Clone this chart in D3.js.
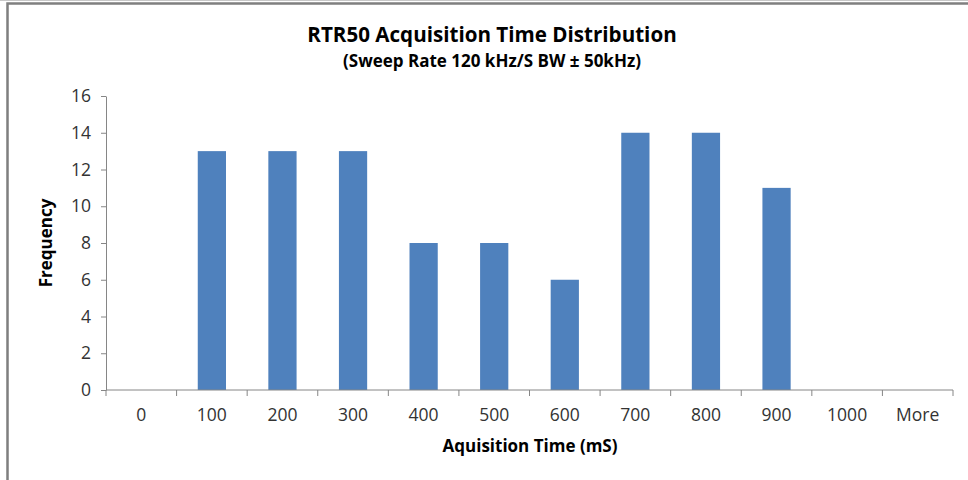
<!DOCTYPE html>
<html>
<head>
<meta charset="utf-8">
<script src="https://cdn.jsdelivr.net/npm/d3@7"></script>
<style>
  body { margin: 0; background: #fff; }
  svg { display: block; font-family: "Open Sans", "Liberation Sans", sans-serif; }
</style>
</head>
<body>
<svg id="drawing_region"></svg>
<script>
// histogram bins and counts
const bins = ["0", "100", "200", "300", "400", "500", "600", "700", "800", "900", "1000", "More"];
const frequency = [0, 13, 13, 13, 8, 8, 6, 14, 14, 11, 0, 0];
const yTicks = [0, 2, 4, 6, 8, 10, 12, 14, 16];

const width = 968, height = 480;
const margin = {top: 96, right: 15, bottom: 90, left: 106};

const svg = d3.select('#drawing_region')
    .attr('width', width)
    .attr('height', height);

// frame of the chart object
svg.append('line')
    .attr('x1', 0).attr('x2', width).attr('y1', 0.5).attr('y2', 0.5)
    .attr('stroke', '#c8c8c8').attr('stroke-width', 1);
svg.append('path')
    .attr('d', `M7.5,${height} V3.5 H${width}`)
    .attr('fill', 'none')
    .attr('stroke', '#7f7f7f')
    .attr('stroke-width', 2.5);

const innerW = width - margin.left - margin.right;
const innerH = height - margin.top - margin.bottom;

const chart = svg.append('g')
    .attr('transform', `translate(${margin.left}, ${margin.top})`);

const xscale = d3.scaleBand()
    .domain(bins)
    .range([0, innerW])
    .paddingInner(0.6)
    .paddingOuter(0.3);

const yscale = d3.scaleLinear()
    .domain([0, 16])
    .range([innerH, 0]);

// bars
chart.selectAll('rect')
    .data(bins.map((b, i) => ({bin: b, value: frequency[i]})).filter(d => d.value > 0))
    .enter().append('rect')
    .attr('x', d => xscale(d.bin))
    .attr('y', d => yscale(d.value))
    .attr('width', xscale.bandwidth())
    .attr('height', d => innerH - yscale(d.value))
    .attr('fill', '#4f81bd');

// y axis
const yaxis = d3.axisLeft(yscale)
    .tickValues(yTicks)
    .tickSize(5)
    .tickSizeOuter(0)
    .tickPadding(10);

const yg = chart.append('g').call(yaxis);

// x axis: ticks sit on the band boundaries, labels in the middle
const step = innerW / bins.length;
const xg = chart.append('g')
    .attr('transform', `translate(0, ${innerH})`);
xg.append('line')
    .attr('x1', 0).attr('x2', innerW)
    .attr('stroke', '#868686');
xg.selectAll('.tk')
    .data(d3.range(bins.length + 1))
    .enter().append('line')
    .attr('x1', i => i * step).attr('x2', i => i * step)
    .attr('y1', 0).attr('y2', 6)
    .attr('stroke', '#868686');
xg.selectAll('.lbl')
    .data(bins)
    .enter().append('text')
    .attr('x', d => xscale(d) + xscale.bandwidth() / 2)
    .attr('y', 31)
    .attr('text-anchor', 'middle')
    .attr('font-size', 17.5)
    .attr('fill', '#333')
    .text(d => d);

yg.select('.domain').attr('stroke', '#868686');
yg.selectAll('.tick line').attr('stroke', '#868686');
yg.selectAll('.tick text')
    .attr('font-size', 17.5)
    .attr('fill', '#333')
    .attr('font-family', '"Open Sans", sans-serif');

// titles
svg.append('text')
    .attr('x', 492).attr('y', 42)
    .attr('text-anchor', 'middle')
    .attr('font-size', 20.6).attr('font-weight', 'bold')
    .attr('fill', '#000')
    .text('RTR50 Acquisition Time Distribution');

svg.append('text')
    .attr('x', 492).attr('y', 67)
    .attr('text-anchor', 'middle')
    .attr('font-size', 17).attr('font-weight', 'bold')
    .attr('fill', '#000')
    .text('(Sweep Rate 120 kHz/S BW ± 50kHz)');

svg.append('text')
    .attr('x', 530).attr('y', 452)
    .attr('text-anchor', 'middle')
    .attr('font-size', 17).attr('font-weight', 'bold')
    .attr('fill', '#000')
    .text('Aquisition Time (mS)');

svg.append('text')
    .attr('transform', 'translate(52, 243) rotate(-90)')
    .attr('text-anchor', 'middle')
    .attr('font-size', 17).attr('font-weight', 'bold')
    .attr('fill', '#000')
    .text('Frequency');
</script>
</body>
</html>
